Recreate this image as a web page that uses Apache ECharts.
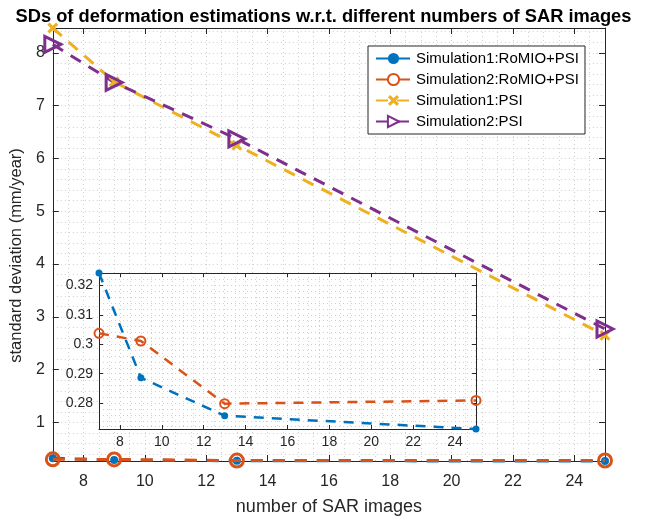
<!DOCTYPE html>
<html>
<head>
<meta charset="utf-8">
<script src="https://cdn.jsdelivr.net/npm/echarts@6/dist/echarts.min.js"></script>
<style>html,body{margin:0;padding:0;background:#fff}#c{width:647px;height:521px}</style>
</head>
<body>
<div id="c"></div>
<script>
// ---- data ----
var numImages = [7, 9, 13, 25];
var sim1RomioPsi = [0.3242, 0.2886, 0.2757, 0.2712];
var sim2RomioPsi = [0.3037, 0.3011, 0.2798, 0.2809];
var sim1Psi = [8.47, 7.45, 6.25, 2.65];
var sim2Psi = [8.16, 7.44, 6.37, 2.77];
var seriesNames = ['Simulation1:RoMIO+PSI', 'Simulation2:RoMIO+PSI', 'Simulation1:PSI', 'Simulation2:PSI'];
var xTicks = [8, 10, 12, 14, 16, 18, 20, 22, 24];
var yTicks = [1, 2, 3, 4, 5, 6, 7, 8];
var insetYTicks = [0.28, 0.29, 0.30, 0.31, 0.32];
var yMin = 0.2712, yMax = 8.47;
var insetYMin = 0.2712, insetYMax = 0.3242;

// ---- build ----
function pairs(xs, ys) { return xs.map(function (x, i) { return [x, ys[i]]; }); }
function steps(a, b, s) { var r = []; for (var v = a; v <= b + 1e-9; v += s) r.push(Math.round(v * 10000) / 10000); return r; }
var mainGridY = steps(0.4, 8.4, 0.2);
var insetGridY = steps(0.272, 0.324, 0.002);

var C = { blue: '#0072BD', orange: '#D95319', yellow: '#EDB120', purple: '#7E2F8E', ax: '#262626', grid: '#cfcfcf' };
var FONT = "'Liberation Sans', Arial, Helvetica, sans-serif";
var crossPath = 'path://M2,0 L5,3 L8,0 L10,2 L7,5 L10,8 L8,10 L5,7 L2,10 L0,8 L3,5 L0,2 Z';
var gridLine = { show: true, lineStyle: { color: C.grid, type: [1, 3], width: 1 } };

function dataX(gi, z, fs, tickLen, name) {
  return {
    type: 'value', gridIndex: gi, min: 7, max: 25, position: 'bottom', z: z,
    axisLine: { show: true, onZero: false, lineStyle: { color: C.ax, width: 1 } },
    axisTick: { show: true, inside: true, length: tickLen, customValues: xTicks, lineStyle: { color: C.ax } },
    axisLabel: { show: true, customValues: xTicks, color: C.ax, fontSize: fs, fontFamily: FONT, margin: gi === 0 ? 13 : 6 },
    splitLine: { show: false },
    name: name || '', nameLocation: 'middle', nameGap: 37,
    nameTextStyle: { color: C.ax, fontSize: 18, fontFamily: FONT }
  };
}
function gridX(gi, z) {
  return { type: 'value', gridIndex: gi, min: 7, max: 25, interval: 0.5, position: 'bottom', z: z,
    axisLine: { show: false }, axisTick: { show: false }, axisLabel: { show: false }, splitLine: gridLine };
}
function topX(gi, z, tickLen) {
  return { type: 'value', gridIndex: gi, min: 7, max: 25, position: 'top', z: z,
    axisLine: { show: true, onZero: false, lineStyle: { color: C.ax, width: 1 } },
    axisTick: { show: true, inside: true, length: tickLen, customValues: xTicks, lineStyle: { color: C.ax } },
    axisLabel: { show: false }, splitLine: { show: false } };
}
function dataY(gi, z, mn, mx, ticks, fs, tickLen, name) {
  return {
    type: 'value', gridIndex: gi, min: mn, max: mx, position: 'left', z: z,
    axisLine: { show: true, onZero: false, lineStyle: { color: C.ax, width: 1 } },
    axisTick: { show: true, inside: true, length: tickLen, customValues: ticks, lineStyle: { color: C.ax } },
    axisLabel: { show: true, customValues: ticks, color: C.ax, fontSize: fs, fontFamily: FONT, margin: gi === 0 ? 8 : 6 },
    splitLine: { show: false },
    name: name || '', nameLocation: 'middle', nameGap: 25, nameRotate: 90,
    nameTextStyle: { color: C.ax, fontSize: 16.5, fontFamily: FONT, padding: [0, 22, 0, 0] }
  };
}
function gridY(gi, z, mn, mx, vals) {
  return { type: 'value', gridIndex: gi, min: mn, max: mx, position: 'left', z: z,
    axisLine: { show: false }, axisTick: { show: false, customValues: vals }, axisLabel: { show: false }, splitLine: gridLine };
}
function rightY(gi, z, mn, mx, ticks, tickLen) {
  return { type: 'value', gridIndex: gi, min: mn, max: mx, position: 'right', z: z,
    axisLine: { show: true, onZero: false, lineStyle: { color: C.ax, width: 1 } },
    axisTick: { show: true, inside: true, length: tickLen, customValues: ticks, lineStyle: { color: C.ax } },
    axisLabel: { show: false }, splitLine: { show: false } };
}

var option = {
  animation: false,
  backgroundColor: '#fff',
  title: {
    text: 'SDs of deformation estimations w.r.t. different numbers of SAR images',
    left: 'center', top: 3,
    textStyle: { fontSize: 18.3, fontWeight: 'bold', color: '#000', fontFamily: FONT }
  },
  legend: {
    orient: 'vertical', left: 368, top: 46, z: 10,
    padding: [5, 6, 5, 7], itemGap: 6, itemWidth: 35, itemHeight: 14,
    backgroundColor: '#fff', borderColor: C.ax, borderWidth: 1, borderRadius: 0,
    textStyle: { fontSize: 15, color: '#000', fontFamily: FONT, lineHeight: 15 },
    data: [
      { name: seriesNames[0] },
      { name: seriesNames[1], itemStyle: { color: '#fff' } },
      { name: seriesNames[2] },
      { name: seriesNames[3], itemStyle: { color: '#fff' } }
    ]
  },
  grid: [
    { left: 51, right: 42, top: 28, bottom: 58, z: 0 },
    { left: 99, right: 171, top: 273, bottom: 92, z: 5, show: true, backgroundColor: '#fff', borderWidth: 0 }
  ],
  xAxis: [
    dataX(0, 1, 16, 6, 'number of SAR images'),
    gridX(0, 0),
    topX(0, 1, 6),
    dataX(1, 6, 14, 4),
    gridX(1, 5),
    topX(1, 6, 4)
  ],
  yAxis: [
    dataY(0, 1, yMin, yMax, yTicks, 16, 6, 'standard deviation (mm/year)'),
    gridY(0, 0, yMin, yMax, mainGridY),
    rightY(0, 1, yMin, yMax, yTicks, 6),
    dataY(1, 6, insetYMin, insetYMax, insetYTicks, 14, 4),
    gridY(1, 5, insetYMin, insetYMax, insetGridY),
    rightY(1, 6, insetYMin, insetYMax, insetYTicks, 4)
  ],
  series: [
    { name: seriesNames[0], type: 'line', xAxisIndex: 0, yAxisIndex: 0, z: 2, clip: false,
      data: pairs(numImages, sim1RomioPsi), symbol: 'circle', symbolSize: 8,
      itemStyle: { color: C.blue }, lineStyle: { color: C.blue, width: 3, type: [12, 10] } },
    { name: seriesNames[1], type: 'line', xAxisIndex: 0, yAxisIndex: 0, z: 3, clip: false,
      data: pairs(numImages, sim2RomioPsi), symbol: 'circle', symbolSize: 13,
      itemStyle: { color: 'rgba(0,0,0,0)', borderColor: C.orange, borderWidth: 3 },
      lineStyle: { color: C.orange, width: 3, type: [12, 10] } },
    { name: seriesNames[2], type: 'line', xAxisIndex: 0, yAxisIndex: 0, z: 4, clip: false,
      data: pairs(numImages, sim1Psi), symbol: crossPath, symbolSize: 11,
      itemStyle: { color: C.yellow }, lineStyle: { color: C.yellow, width: 3, type: [12, 9] } },
    { name: seriesNames[3], type: 'line', xAxisIndex: 0, yAxisIndex: 0, z: 4, clip: false,
      data: pairs(numImages, sim2Psi), symbol: 'triangle', symbolRotate: -90, symbolSize: 16,
      itemStyle: { color: 'rgba(0,0,0,0)', borderColor: C.purple, borderWidth: 3 },
      lineStyle: { color: C.purple, width: 3, type: [12, 9] } },
    { name: 'inset1', type: 'line', xAxisIndex: 3, yAxisIndex: 3, z: 7, clip: false,
      data: pairs(numImages, sim1RomioPsi), symbol: 'circle', symbolSize: 7,
      itemStyle: { color: C.blue }, lineStyle: { color: C.blue, width: 2.5, type: [10, 8] } },
    { name: 'inset2', type: 'line', xAxisIndex: 3, yAxisIndex: 3, z: 7, clip: false,
      data: pairs(numImages, sim2RomioPsi), symbol: 'circle', symbolSize: 9,
      itemStyle: { color: 'rgba(0,0,0,0)', borderColor: C.orange, borderWidth: 2 },
      lineStyle: { color: C.orange, width: 2.5, type: [10, 8] } }
  ]
};
var chart = echarts.init(document.getElementById('c'), null, { renderer: 'canvas' });
chart.setOption(option);
</script>
</body>
</html>
